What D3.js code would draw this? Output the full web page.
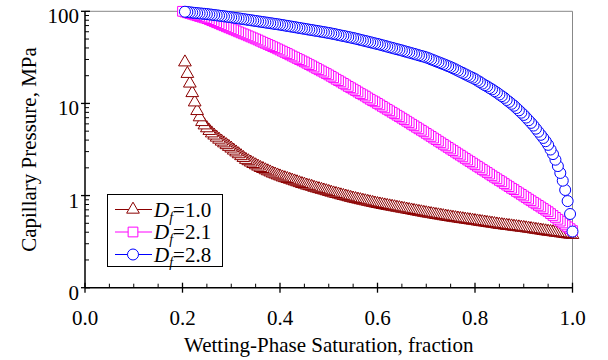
<!DOCTYPE html>
<html>
<head>
<meta charset="utf-8">
<script src="https://cdn.jsdelivr.net/npm/d3@7"></script>
</head>
<body style="margin:0;background:#fff">
<svg id="chart" width="608" height="360" style="font-family: 'Liberation Serif', 'Times New Roman', Times, serif"></svg>
<script>
// wetting-phase saturation, shared by the three curves
const saturation = [
  0.200, 0.205, 0.210, 0.215, 0.220, 0.225, 0.230, 0.235, 0.240, 0.245,
  0.250, 0.255, 0.260, 0.265, 0.270, 0.275, 0.280, 0.285, 0.290, 0.295,
  0.300, 0.305, 0.310, 0.315, 0.320, 0.325, 0.330, 0.335, 0.340, 0.345,
  0.350, 0.355, 0.360, 0.365, 0.370, 0.375, 0.380, 0.385, 0.390, 0.395,
  0.400, 0.405, 0.410, 0.415, 0.420, 0.425, 0.430, 0.435, 0.440, 0.445,
  0.450, 0.455, 0.460, 0.465, 0.470, 0.475, 0.480, 0.485, 0.490, 0.495,
  0.500, 0.505, 0.510, 0.515, 0.520, 0.525, 0.530, 0.535, 0.540, 0.545,
  0.550, 0.555, 0.560, 0.565, 0.570, 0.575, 0.580, 0.585, 0.590, 0.595,
  0.600, 0.605, 0.610, 0.615, 0.620, 0.625, 0.630, 0.635, 0.640, 0.645,
  0.650, 0.655, 0.660, 0.665, 0.670, 0.675, 0.680, 0.685, 0.690, 0.695,
  0.700, 0.705, 0.710, 0.715, 0.720, 0.725, 0.730, 0.735, 0.740, 0.745,
  0.750, 0.755, 0.760, 0.765, 0.770, 0.775, 0.780, 0.785, 0.790, 0.795,
  0.800, 0.805, 0.810, 0.815, 0.820, 0.825, 0.830, 0.835, 0.840, 0.845,
  0.850, 0.855, 0.860, 0.865, 0.870, 0.875, 0.880, 0.885, 0.890, 0.895,
  0.900, 0.905, 0.910, 0.915, 0.920, 0.925, 0.930, 0.935, 0.940, 0.945,
  0.950, 0.955, 0.960, 0.965, 0.970, 0.975, 0.980, 0.985, 0.990, 0.995,
  1.000
];

// capillary pressure, MPa (null = no point)
const pcDf10 = [
  null, 28, 21, 16.5, 13, 10.3, 8.3, 7.1, 6.3, 5.8,
  5.4, 5.05, 4.75, 4.5, 4.27, 4.06, 3.87, 3.70, 3.54, 3.39,
  3.25, 3.09, 2.95, 2.82, 2.69, 2.57, 2.45, 2.37, 2.29, 2.21,
  2.14, 2.07, 2.00, 1.95, 1.89, 1.84, 1.79, 1.74, 1.70, 1.66,
  1.62, 1.58, 1.55, 1.52, 1.49, 1.46, 1.43, 1.40, 1.37, 1.34,
  1.32, 1.29, 1.27, 1.25, 1.22, 1.20, 1.18, 1.16, 1.14, 1.12,
  1.10, 1.08, 1.06, 1.045, 1.03, 1.01, 0.995, 0.98, 0.964, 0.948,
  0.933, 0.92, 0.908, 0.895, 0.883, 0.871, 0.859, 0.847, 0.836, 0.824,
  0.813, 0.804, 0.794, 0.785, 0.776, 0.767, 0.759, 0.750, 0.741, 0.733,
  0.724, 0.716, 0.708, 0.700, 0.692, 0.684, 0.676, 0.668, 0.661, 0.653,
  0.646, 0.639, 0.632, 0.626, 0.619, 0.613, 0.607, 0.600, 0.594, 0.588,
  0.582, 0.577, 0.571, 0.566, 0.561, 0.556, 0.551, 0.546, 0.541, 0.536,
  0.531, 0.526, 0.521, 0.516, 0.512, 0.507, 0.502, 0.498, 0.493, 0.488,
  0.484, 0.480, 0.476, 0.472, 0.469, 0.465, 0.461, 0.457, 0.454, 0.450,
  0.447, 0.443, 0.439, 0.435, 0.431, 0.427, 0.423, 0.419, 0.415, 0.411,
  0.407, 0.404, 0.401, 0.397, 0.394, 0.391, 0.388, 0.384, 0.381, 0.378,
  0.375
];

const pcDf21 = [
  100, 98.2, 96.4, 94.6, 92.9, 91.2, 89.5, 87.9, 86.3, 84.7,
  83.2, 81.1, 79.1, 77.1, 75.2, 73.3, 71.4, 69.7, 67.9, 66.2,
  64.6, 63.0, 61.4, 59.8, 58.3, 56.9, 55.5, 54.1, 52.7, 51.4,
  50.1, 48.8, 47.4, 46.1, 44.9, 43.7, 42.5, 41.3, 40.2, 39.1,
  38.0, 36.9, 35.8, 34.8, 33.7, 32.7, 31.8, 30.8, 29.9, 29.0,
  28.2, 27.3, 26.4, 25.6, 24.8, 24.0, 23.2, 22.5, 21.8, 21.1,
  20.4, 19.7, 19.0, 18.3, 17.7, 17.1, 16.5, 15.9, 15.3, 14.8,
  14.3, 13.8, 13.3, 12.8, 12.4, 12.0, 11.5, 11.1, 10.7, 10.4,
  10.0, 9.64, 9.29, 8.95, 8.63, 8.32, 8.02, 7.73, 7.45, 7.18,
  6.92, 6.66, 6.41, 6.17, 5.94, 5.72, 5.51, 5.30, 5.11, 4.92,
  4.73, 4.55, 4.38, 4.21, 4.05, 3.89, 3.74, 3.60, 3.46, 3.33,
  3.20, 3.08, 2.96, 2.84, 2.74, 2.63, 2.53, 2.43, 2.34, 2.25,
  2.16, 2.08, 2.00, 1.92, 1.85, 1.78, 1.71, 1.64, 1.58, 1.52,
  1.46, 1.41, 1.35, 1.30, 1.25, 1.20, 1.16, 1.11, 1.07, 1.03,
  0.989, 0.951, 0.914, 0.879, 0.845, 0.813, 0.782, 0.752, 0.723, 0.695,
  0.668, 0.637, 0.608, 0.580, 0.553, 0.528, 0.504, 0.480, 0.458, 0.437,
  0.417
];

const pcDf28 = [
  null, 98.9, 98.2, 97.5, 96.8, 96.1, 95.5, 94.9, 94.4, 93.9,
  93.3, 92.6, 91.8, 91.1, 90.4, 89.7, 88.9, 88.2, 87.5, 86.8,
  86.1, 85.3, 84.5, 83.8, 83.0, 82.2, 81.5, 80.7, 80.0, 79.3,
  78.5, 77.8, 77.1, 76.4, 75.7, 75.0, 74.3, 73.6, 72.9, 72.3,
  71.6, 70.9, 70.1, 69.4, 68.7, 68.0, 67.3, 66.6, 65.9, 65.2,
  64.6, 63.9, 63.2, 62.6, 61.9, 61.3, 60.7, 60.0, 59.4, 58.8,
  58.2, 57.5, 56.8, 56.1, 55.3, 54.6, 54.0, 53.3, 52.6, 51.9,
  51.3, 50.5, 49.8, 49.0, 48.3, 47.6, 46.9, 46.2, 45.5, 44.8,
  44.2, 43.5, 42.8, 42.1, 41.4, 40.7, 40.1, 39.4, 38.8, 38.2,
  37.6, 36.9, 36.3, 35.7, 35.1, 34.5, 33.9, 33.3, 32.7, 32.2,
  31.6, 30.9, 30.1, 29.4, 28.7, 28.0, 27.4, 26.7, 26.1, 25.4,
  24.8, 24.1, 23.4, 22.7, 22.0, 21.4, 20.7, 20.1, 19.5, 19.0,
  18.4, 17.7, 17.1, 16.4, 15.8, 15.3, 14.7, 14.2, 13.6, 13.1,
  12.5, 12.0, 11.5, 10.9, 10.4, 9.91, 9.44, 8.91, 8.41, 7.94,
  7.50, 7.02, 6.57, 6.15, 5.75, 5.32, 4.93, 4.56, 4.22, 3.89,
  3.55, 3.16, 2.82, 2.45, 2.09, 1.76, 1.45, 1.15, 0.871, 0.631,
  0.407
];

const dfLabels = ["1.0", "2.1", "2.8"];
const xTickValues = [0, 0.2, 0.4, 0.6, 0.8, 1.0];
const xTickLabels = ["0.0", "0.2", "0.4", "0.6", "0.8", "1.0"];
const yTickValues = [0.1, 1, 10, 100];
const yTickLabels = ["0", "1", "10", "100"];

const series = [
  { df: dfLabels[0], pc: pcDf10, color: "#8b0000", symbol: d3.symbolTriangle, size: 70 },
  { df: dfLabels[1], pc: pcDf21, color: "#ff00ff", symbol: d3.symbolSquare, size: 95 },
  { df: dfLabels[2], pc: pcDf28, color: "#0000ff", symbol: d3.symbolCircle, size: 95 }
];

const svg = d3.select("#chart");
const x = d3.scaleLinear().domain([0, 1]).range([85, 572.5]);
const y = d3.scaleLog().domain([0.1, 100]).range([287.7, 11.3]);

// plot frame (top + right in grey)
svg.append("path")
  .attr("d", `M${x(0)},${y(100)}H${x(1)}V${y(0.1)}`)
  .attr("fill", "none")
  .attr("stroke", "#888")
  .attr("stroke-width", 1);

// markers, drawn last point first so the early points sit on top
series.forEach(s => {
  const pts = saturation.map((sw, i) => ({ sw: sw, pc: s.pc[i] }))
    .filter(d => d.pc != null)
    .reverse();
  svg.append("g")
    .selectAll("path")
    .data(pts)
    .enter()
    .append("path")
    .attr("transform", d => `translate(${x(d.sw)},${y(d.pc)})`)
    .attr("d", d3.symbol().type(s.symbol).size(s.size))
    .attr("fill", "#fff")
    .attr("stroke", s.color)
    .attr("stroke-width", 1);
});

// axes
const axis = svg.append("g").attr("stroke", "#000");
axis.append("line")
  .attr("x1", x(0)).attr("x2", x(0))
  .attr("y1", y(100)).attr("y2", y(0.1))
  .attr("stroke-width", 1.5);
axis.append("line")
  .attr("x1", x(0)).attr("x2", x(1))
  .attr("y1", y(0.1)).attr("y2", y(0.1))
  .attr("stroke-width", 1.5);

// y ticks: majors cross the axis, minors point inward
const yMinor = y.ticks().filter(v => !yTickValues.some(t => Math.abs(t - v) < 1e-9));
axis.selectAll(".ymin").data(yMinor).enter().append("line")
  .attr("x1", x(0)).attr("x2", x(0) + 4)
  .attr("y1", d => y(d)).attr("y2", d => y(d));
axis.selectAll(".ymaj").data(yTickValues).enter().append("line")
  .attr("x1", x(0) - 4).attr("x2", x(0) + 5)
  .attr("y1", d => y(d)).attr("y2", d => y(d))
  .attr("stroke-width", 1.3);

const xMinor = x.ticks(25).filter(v => !xTickValues.some(t => Math.abs(t - v) < 1e-9));
axis.selectAll(".xmin").data(xMinor).enter().append("line")
  .attr("x1", d => x(d)).attr("x2", d => x(d))
  .attr("y1", y(0.1) - 4).attr("y2", y(0.1));
axis.selectAll(".xmaj").data(xTickValues).enter().append("line")
  .attr("x1", d => x(d)).attr("x2", d => x(d))
  .attr("y1", y(0.1) - 5).attr("y2", y(0.1) + 5)
  .attr("stroke-width", 1.3);

// tick labels
svg.selectAll(".ylab").data(yTickValues).enter().append("text")
  .attr("x", 79)
  .attr("y", d => y(d) + 12)
  .attr("text-anchor", "end")
  .attr("font-size", 21)
  .text((d, i) => yTickLabels[i]);

svg.selectAll(".xlab").data(xTickValues).enter().append("text")
  .attr("x", d => x(d))
  .attr("y", 325)
  .attr("text-anchor", "middle")
  .attr("font-size", 21)
  .text((d, i) => xTickLabels[i]);

// axis titles
svg.append("text")
  .attr("x", (x(0) + x(1)) / 2)
  .attr("y", 352)
  .attr("text-anchor", "middle")
  .attr("font-size", 21)
  .text("Wetting-Phase Saturation, fraction");

svg.append("text")
  .attr("transform", `translate(36,${(y(100) + y(0.1)) / 2}) rotate(-90)`)
  .attr("text-anchor", "middle")
  .attr("font-size", 21)
  .text("Capillary Pressure, MPa");

// legend
const legend = svg.append("g");
legend.append("rect")
  .attr("x", 107.5).attr("y", 194.5)
  .attr("width", 115).attr("height", 72)
  .attr("fill", "#fff")
  .attr("stroke", "#000")
  .attr("stroke-width", 1);

series.forEach((s, i) => {
  const cy = 209.5 + i * 22.5;
  legend.append("line")
    .attr("x1", 115).attr("x2", 152)
    .attr("y1", cy).attr("y2", cy)
    .attr("stroke", s.color)
    .attr("stroke-width", 1);
  legend.append("path")
    .attr("transform", `translate(133,${cy})`)
    .attr("d", d3.symbol().type(s.symbol).size(s.size))
    .attr("fill", "#fff")
    .attr("stroke", s.color);
  const t = legend.append("text")
    .attr("x", 154)
    .attr("y", cy + 7)
    .attr("font-size", 21);
  t.append("tspan").attr("font-style", "italic").text("D");
  t.append("tspan").attr("font-style", "italic").attr("font-size", 14).attr("dy", 5).text("f");
  t.append("tspan").attr("dy", -5).text("=" + s.df);
});
</script>
</body>
</html>
